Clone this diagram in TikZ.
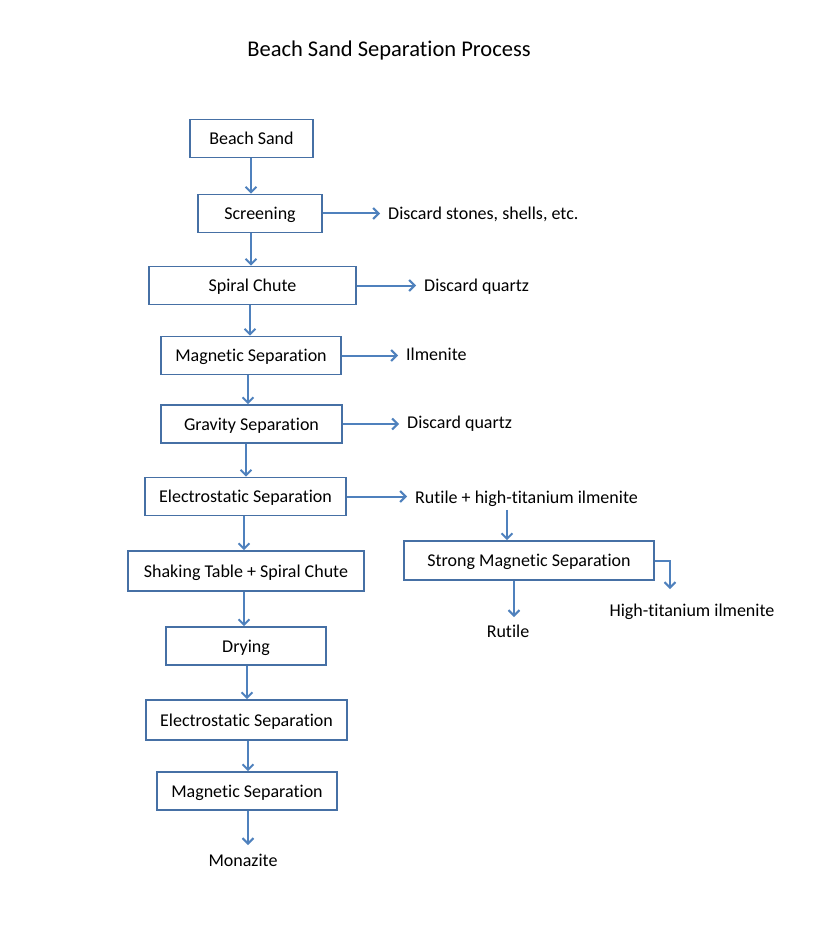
\documentclass[tikz,border=0pt]{standalone}
\usepackage{fontspec}
\setmainfont{Carlito}[RawFeature=-liga]
\usetikzlibrary{arrows.meta}
\definecolor{boxc}{RGB}{70,112,165}
\definecolor{arrc}{RGB}{79,129,189}
\begin{document}
\begin{tikzpicture}[x=1pt,y=-1pt,
  every node/.style={font=\fontsize{18}{21}\selectfont, text=black},
  pbox/.style={draw=boxc, line width=1.6pt, minimum height=38pt, inner sep=0pt, text height=14pt, text depth=1.5pt},
  lab/.style={inner sep=4pt, text height=14pt, text depth=1.5pt},
  arr/.style={draw=arrc, line width=2pt, -{Straight Barb[length=5.5pt,width=11pt]}},
  sarr/.style={arr, shorten >=4pt}]
\useasboundingbox (0,0) rectangle (832,933);
\node[font=\fontsize{22.5}{26}\selectfont] (title) at (389,51) {Beach Sand Separation Process};
% main column
\node[pbox, minimum width=123pt] (b1) at (251.5,138.5) {Beach Sand};
\node[pbox, minimum width=124pt] (b2) at (260,213.5) {Screening};
\node[pbox, minimum width=207pt] (b3) at (252.5,285.5) {Spiral Chute};
\node[pbox, minimum width=180pt] (b4) at (251,355.5) {Magnetic Separation};
\node[pbox, minimum width=181pt] (b5) at (251.5,424) {Gravity Separation};
\node[pbox, minimum width=201pt] (b6) at (245.5,496.5) {Electrostatic Separation};
\node[pbox, minimum width=236pt, minimum height=40pt] (b7) at (246,571) {Shaking Table + Spiral Chute};
\node[pbox, minimum width=160pt] (b8) at (246,646) {Drying};
\node[pbox, minimum width=201pt, minimum height=40pt] (b9) at (246.5,720) {Electrostatic Separation};
\node[pbox, minimum width=180pt] (b10) at (247,791) {Magnetic Separation};
\node[lab] (mon) at (243,860) {Monazite};
% right side
\node[lab, anchor=west] (d1) at (384,213) {Discard stones, shells, etc.};
\node[lab, anchor=west] (d2) at (420,285.5) {Discard quartz};
\node[lab, anchor=west] (d3) at (402,354) {Ilmenite};
\node[lab, anchor=west] (d4) at (403,422) {Discard quartz};
\node[lab, anchor=west] (d5) at (411,497) {Rutile + high-titanium ilmenite};
\node[pbox, minimum width=250pt, minimum height=39pt] (sms) at (529,560.5) {Strong Magnetic Separation};
\node[lab] (rut) at (508,631) {Rutile};
\node[lab] (hti) at (692,610) {High-titanium ilmenite};
% main arrows
\draw[arr] (b1.south -| 251,0) -- (b2.north -| 251,0);
\draw[arr] (b2.south -| 251,0) -- (b3.north -| 251,0);
\draw[arr] (b3.south -| 250,0) -- (b4.north -| 250,0);
\draw[arr] (b4.south -| 248,0) -- (b5.north -| 248,0);
\draw[arr] (b5.south -| 246,0) -- (b6.north -| 246,0);
\draw[arr] (b6.south -| 244,0) -- (b7.north -| 244,0);
\draw[arr] (b7.south -| 244,0) -- (b8.north -| 244,0);
\draw[arr] (b8.south -| 247,0) -- (b9.north -| 247,0);
\draw[arr] (b9.south -| 248,0) -- (b10.north -| 248,0);
\draw[arr, shorten >=3pt] (b10.south -| 248,0) -- (mon.north -| 248,0);
% side arrows
\draw[sarr] (b2.east) -- (b2.east -| d1.west);
\draw[sarr] (b3.east) -- (b3.east -| d2.west);
\draw[sarr] (b4.east) -- (b4.east -| d3.west);
\draw[sarr] (b5.east) -- (b5.east -| d4.west);
\draw[sarr] (b6.east) -- (b6.east -| d5.west);
\draw[arr, shorten <=1pt] (d5.south -| 507,0) -- (sms.north -| 507,0);
\draw[arr, shorten >=2pt] (sms.south -| 514,0) -- (rut.north -| 514,0);
\coordinate (hk) at (670,560.5);
\draw[arr, shorten >=9pt] (sms.east) -- (hk) -- (hti.north -| hk);
\end{tikzpicture}
\end{document}
